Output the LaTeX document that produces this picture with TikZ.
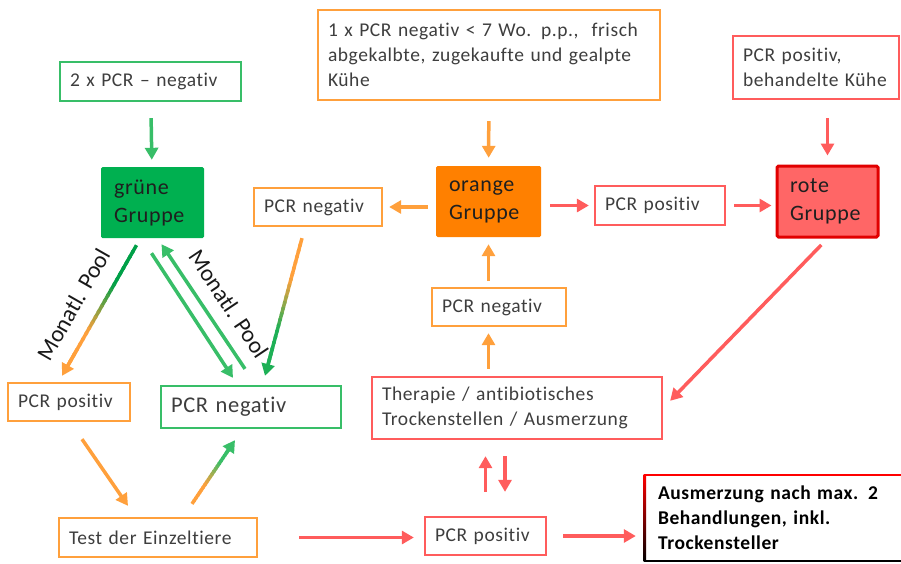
\documentclass[tikz,border=0pt]{standalone}
\usepackage{fontspec}
\setmainfont{Carlito}[LetterSpace=3, Ligatures={NoCommon}]
\newfontfamily\poolfont{Carlito}[Ligatures={NoCommon}]
\usetikzlibrary{arrows.meta,positioning,calc}

\definecolor{gruenline}{RGB}{56,190,104}
\definecolor{gruenfill}{RGB}{0,176,80}
\definecolor{gruendark}{RGB}{0,160,72}
\definecolor{gruenmid}{RGB}{30,176,86}
\definecolor{orline}{RGB}{255,160,60}
\definecolor{orfill}{RGB}{255,128,0}
\definecolor{redline}{RGB}{255,92,92}
\definecolor{rotfill}{RGB}{255,102,102}
\definecolor{rotdraw}{RGB}{225,0,0}
\definecolor{txtgray}{RGB}{62,62,62}

\newcommand{\boxfont}{\fontsize{19.5}{25}\selectfont}
\newcommand{\grpfont}{\fontsize{22}{28}\selectfont}
\newcommand{\grossfont}{\fontsize{22.5}{28}\selectfont}

% Pfeil mit Farbverlauf: von, nach, Startfarbe, Endfarbe
\newcommand{\farbpfeil}[4]{%
  \foreach \k in {0,...,21}{%
    \pgfmathsetmacro{\anteil}{min(100,max(0,(\k/22-0.3)/0.4*100))}%
    \draw[line width=3.5pt, #4!\anteil!#3] ($(#1)!{\k/24}!(#2)$) -- ($(#1)!{(\k+1.4)/24}!(#2)$);
  }%
  \draw[pfeil, #4] ($(#1)!0.8!(#2)$) -- (#2);
}

\begin{document}
\begin{tikzpicture}[x=1pt, y=-1pt,
  box/.style={draw, line width=2.3pt, fill=white, align=left, inner xsep=10pt,
              inner ysep=0pt, text=txtgray, font=\boxfont},
  gbox/.style={box, draw=gruenline},
  obox/.style={box, draw=orline},
  rbox/.style={box, draw=redline},
  gruppe/.style={align=left, inner xsep=13pt, inner ysep=0pt, minimum height=71pt,
                 rounded corners=1.5pt, text=black!88, font=\grpfont},
  pfeil/.style={-{Triangle[length=12pt, width=13pt]}, line width=3.5pt},
  garr/.style={pfeil, gruenline},
  oarr/.style={pfeil, orline},
  rarr/.style={pfeil, redline},
  lbl/.style={font=\poolfont\fontsize{23.5}{28}\selectfont, text=black!90, inner sep=0pt}
]
\useasboundingbox (0,0) rectangle (901,563);

\node[gbox, text width=161pt, minimum height=39pt] (zweimal) at (150.5,81.5) {2 x PCR – negativ};
\node[gruppe, fill=gruenfill, text width=77pt] (gruen) at (152.5,202.5) {grüne\\Gruppe};
\node[obox, text width=108pt, minimum height=38pt] (negLinks) at (318,207) {PCR negativ};
\node[obox, text width=322pt, minimum height=90pt] (frisch) at (489,55) {1 x PCR negativ < 7 Wo. p.p.,\ \ frisch\\abgekalbte, zugekaufte und gealpte\\Kühe};
\node[gruppe, fill=orfill, text width=79pt] (orangeGr) at (488.5,201.5) {orange\\Gruppe};
\node[rbox, text width=110pt, minimum height=39pt] (posMitte) at (660,205.5) {PCR positiv};
\node[gruppe, fill=rotfill, draw=rotdraw, line width=3pt, text width=75pt] (rotGr) at (827.5,201.5) {rote\\Gruppe};
\node[rbox, text width=146pt, minimum height=63pt] (behandelt) at (816,67.5) {PCR positiv,\\behandelte Kühe};
\node[obox, text width=114pt, minimum height=38pt] (negMitte) at (499,307) {PCR negativ};
\node[rbox, text width=270pt, minimum height=62pt] (therapie) at (517,408) {Therapie / antibiotisches\\Trockenstellen / Ausmerzung};
\node[rbox, text width=101pt, minimum height=38pt] (posUnten) at (485.5,536) {PCR positiv};
\node[obox, text width=102pt, minimum height=38pt] (posLinks) at (69,402) {PCR positiv};
\node[gbox, text width=160pt, minimum height=42pt, font=\grossfont] (negGruen) at (251,407) {PCR negativ};
\node[obox, text width=178pt, minimum height=39pt] (einzel) at (158,537.5) {Test der Einzeltiere};
\node[align=left, inner xsep=13pt, text width=249pt, minimum height=86pt,
      font=\boxfont\bfseries, text=black] (ausmerz) at (782.5,518) {Ausmerzung nach max. 2\\Behandlungen, inkl.\\Trockensteller};

\draw[red, line width=2.5pt] (ausmerz.north west) -- (ausmerz.north east);
\shade[top color=red, middle color=red!75!black, bottom color=black] ([xshift=-1.25pt]ausmerz.north west) rectangle ([xshift=1.25pt]ausmerz.south west);
\draw[black, line width=2pt] (ausmerz.south west) -- (ausmerz.south east);

\draw[garr, shorten <=16pt, shorten >=7pt] (zweimal) -- (gruen);
\draw[oarr, shorten <=20pt, shorten >=8pt] (frisch) -- (orangeGr);
\draw[rarr, shorten <=18pt, shorten >=9pt] (behandelt.south -| rotGr) -- (rotGr);
\draw[oarr, shorten <=8pt, shorten >=6pt] (orangeGr.west |- negLinks) -- (negLinks);
\draw[rarr, shorten <=9pt, shorten >=5pt] (orangeGr.east |- posMitte) -- (posMitte);
\draw[rarr, shorten <=8pt, shorten >=4pt] (posMitte) -- (posMitte -| rotGr.west);
\draw[rarr, shorten <=9pt, shorten >=10pt] (rotGr.south) -- (therapie.east);
\draw[oarr, shorten <=7pt, shorten >=6pt] (therapie.north -| orangeGr) -- (negMitte.south -| orangeGr);
\draw[oarr, shorten <=6pt, shorten >=7pt] (negMitte.north -| orangeGr) -- (orangeGr);
\draw[rarr, shorten <=24pt, shorten >=16pt] (posUnten.north) -- (posUnten.north |- therapie.south);
\draw[rarr, shorten <=16pt, shorten >=24pt] ($(posUnten.north |- therapie.south)+(19.5,0)$) -- ($(posUnten.north)+(19.5,0)$);
\draw[rarr, shorten <=41pt, shorten >=10pt] (einzel) -- (einzel -| posUnten.west);
\draw[rarr, shorten <=16pt, shorten >=9pt] (posUnten) -- (posUnten -| ausmerz.west);

\draw[garr] ([shift={(-1,15)}]gruen.south) -- ([shift={(-18,-7)}]negGruen.north);
\draw[garr] ([shift={(-6,-16)}]negGruen.north) -- ([shift={(9,6)}]gruen.south)
  node[pos=0.42, sloped, above=12.6pt, lbl] {Monatl. Pool};
\draw[oarr] ([shift={(13,17)}]posLinks.south) -- ([shift={(-30,-11)}]einzel.north);

\coordinate (poolA) at ([shift={(-16,7)}]gruen.south);
\coordinate (poolB) at ([shift={(-7,-6)}]posLinks.north);
\coordinate (negA) at ([shift={(-16,11)}]negLinks.south);
\coordinate (negB) at ([shift={(14,-9)}]negGruen.north);
\coordinate (einzA) at ([shift={(34,-13)}]einzel.north);
\coordinate (einzB) at ([shift={(-16,11)}]negGruen.south);

\farbpfeil{poolA}{poolB}{gruendark}{orline}
\path (poolA) -- (poolB) node[pos=0.55, sloped, above=17pt, lbl] {Monatl. Pool};
\farbpfeil{negA}{negB}{orline}{gruenmid}
\farbpfeil{einzA}{einzB}{orline}{gruenline}
\end{tikzpicture}
\end{document}
